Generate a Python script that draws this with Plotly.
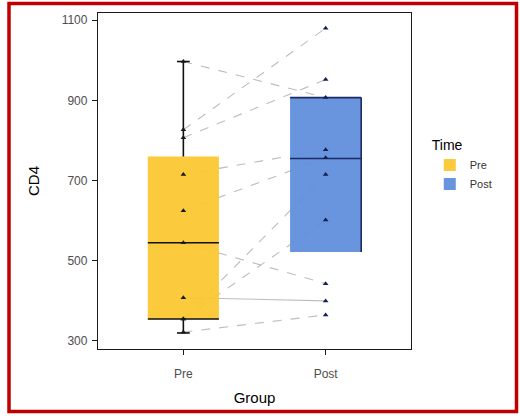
import plotly.graph_objects as go

# Paired CD4 counts per subject, Pre and Post
pre_cd4 = [997, 827, 807, 715, 625, 545, 408, 355, 355, 322]
post_cd4 = [907, 1080, 952, 777, 757, 443, 400, 715, 602, 365]
line_dash = ["dash", "dash", "dash", "dash", "dash", "dash", "solid", "dash", "dash", "dash"]

groups = ["Pre", "Post"]
group_pos = [1, 2]

# Box summary statistics per group
box_q1 = [355, 522]
box_median = [545, 755]
box_q3 = [760, 907]
box_low = [320, 522]
box_high = [997, 907]

y_ticks = [300, 500, 700, 900, 1100]

fill_colors = ["rgba(252,198,46,0.93)", "rgba(94,141,220,0.93)"]
edge_colors = ["#111111", "#1C2A66"]
BOX_W = 0.5
CAP_W = 0.045

fig = go.Figure()

# subject lines joining Pre and Post, kept underneath the boxes
for a, b, d in zip(pre_cd4, post_cd4, line_dash):
    fig.add_shape(type="line", xref="x", yref="y", layer="below",
                  x0=group_pos[0], x1=group_pos[1], y0=a, y1=b,
                  line=dict(color="#BDBDBD", width=1.1, dash=d))

# filled boxes
for i, g in enumerate(groups):
    fig.add_trace(go.Box(
        name=g, x=[group_pos[i]], q1=[box_q1[i]], median=[box_median[i]],
        q3=[box_q3[i]], lowerfence=[box_q1[i]], upperfence=[box_q3[i]],
        width=BOX_W, fillcolor=fill_colors[i],
        line=dict(color="rgba(0,0,0,0)", width=0),
        legendgroup=g, showlegend=True, hoverinfo="skip"))

def seg(x0, x1, y0, y1, color, width=1.6):
    fig.add_trace(go.Scatter(
        x=[x0, x1], y=[y0, y1], mode="lines",
        line=dict(color=color, width=width),
        showlegend=False, hoverinfo="skip"))

# Pre: whiskers with caps, median and lower hinge
p, h = group_pos[0], BOX_W / 2
c = edge_colors[0]
seg(p, p, box_q3[0], box_high[0], c)
seg(p, p, box_low[0], box_q1[0], c)
seg(p - CAP_W, p + CAP_W, box_high[0], box_high[0], c)
seg(p - CAP_W, p + CAP_W, box_low[0], box_low[0], c)
seg(p - h, p + h, box_median[0], box_median[0], c)
seg(p - h, p + h, box_q1[0], box_q1[0], c)

# Post: upper hinge, median and right edge
p = group_pos[1]
c = edge_colors[1]
seg(p - h, p + h, box_q3[1], box_q3[1], c)
seg(p - h, p + h, box_median[1], box_median[1], c)
seg(p + h, p + h, box_q1[1], box_q3[1], c)

# individual observations
fig.add_trace(go.Scatter(
    x=[group_pos[0]] * len(pre_cd4), y=pre_cd4, mode="markers",
    marker=dict(symbol="triangle-up", size=5, color="#1a1a1a"),
    showlegend=False, hoverinfo="skip"))
fig.add_trace(go.Scatter(
    x=[group_pos[1]] * len(post_cd4), y=post_cd4, mode="markers",
    marker=dict(symbol="triangle-up", size=5, color="#14204F"),
    showlegend=False, hoverinfo="skip"))

# outer red frame, placed in paper units relative to the plot area
L, R, T, B = 98, 109, 13, 67
pw, ph = 520 - L - R, 416 - T - B
def px(x): return (x - L) / pw
def py(y): return (416 - B - y) / ph
fig.add_shape(type="rect", xref="paper", yref="paper",
              x0=px(9), x1=px(516.5), y0=py(411.5), y1=py(3.5),
              line=dict(color="#C00000", width=3.5), fillcolor="rgba(0,0,0,0)")

axis_font = dict(family="Liberation Sans, Arial, sans-serif", size=12, color="#4D4D4D")
fig.update_layout(
    width=520, height=416,
    margin=dict(l=L, r=R, t=T, b=B, pad=0),
    paper_bgcolor="white", plot_bgcolor="white",
    font=dict(family="Liberation Sans, Arial, sans-serif", color="#000000"),
    showlegend=True,
    legend=dict(
        title=dict(text="Time", font=dict(size=14, color="#000000")),
        font=dict(size=11, color="#333333"),
        x=1.06, xanchor="left", y=0.645, yanchor="top",
        bgcolor="rgba(0,0,0,0)", tracegroupgap=0, itemsizing="constant"),
    xaxis=dict(
        range=[0.4, 2.6], tickvals=group_pos, ticktext=groups,
        showgrid=False, zeroline=False, showline=True, mirror=True,
        linecolor="#1a1a1a", linewidth=1.3, ticks="outside", ticklen=5,
        tickcolor="#1a1a1a", tickfont=axis_font, ticklabelstandoff=8,
        title=dict(text="Group", font=dict(size=15, color="#000000"), standoff=12)),
    yaxis=dict(
        range=[280, 1118], tickvals=y_ticks,
        showgrid=False, zeroline=False, showline=True, mirror=True,
        linecolor="#1a1a1a", linewidth=1.3, ticks="outside", ticklen=5,
        tickcolor="#1a1a1a", tickfont=axis_font, ticklabelstandoff=2,
        title=dict(text="CD4", font=dict(size=15, color="#000000"), standoff=18)),
)

fig.write_html("out.html")
